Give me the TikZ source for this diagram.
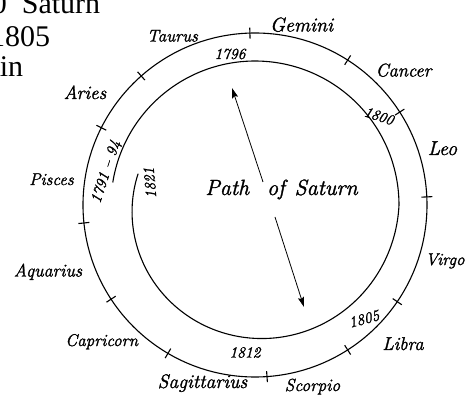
\documentclass[tikz,border=0pt]{standalone}
\usepackage{fontspec}
\newfontfamily\tnr{Liberation Serif}
\newfontfamily\handfont{Latin Modern Roman}[FakeBold=1.5,Ligatures=TeX]
\usetikzlibrary{arrows.meta}
\tikzset{
  hand/.style={font=\handfont\fontsize{#1}{#1}\selectfont\itshape, inner sep=0pt, anchor=base},
  num/.style={font=\handfont\fontsize{#1}{#1}\selectfont\itshape, inner sep=0pt},
  ring/.style={line width=1.1pt},
  signtick/.style={line width=1.1pt},
  pointer/.style={line width=0.8pt, -{Stealth[length=10pt,width=6pt,inset=1.5pt]}},
  cut/.style={font=\tnr\fontsize{30}{30}\selectfont, inner sep=0pt, anchor=base west}
}
\begin{document}
\begin{tikzpicture}[x=1pt,y=1pt]
\useasboundingbox (-255,-191) rectangle (214,205);
\fill[white] (-255,-191) rectangle (214,205);
% cut-off text at top left
\node[cut] (t1) at (-263.3,191.7) {0\hspace{15pt}Saturn};
\node[cut] (t2) at (-265,158.5) {1805};
\node[cut] (t3) at (-255.3,128.5) {in};
% zodiac ring
\draw[ring] (0,0) circle[radius=172pt];
\foreach \a in {91.7,57.4,32.7,2.7,-34.2,-57.4,-86,-120.4,-146.8,-174,153.3,131.4}
  \draw[signtick] (\a:166.5pt) -- (\a:177.5pt);
% path of Saturn (spiral)
\draw[ring] plot[domain=0:366, samples=200, smooth, variable=\t]
  ({171-\t}:{144-23*max(0,(\t-171)/195)});
% sign names
\node[hand=17] (taurus) at (-82.5,163.5) {Taurus};
\node[hand=20] (gemini) at (46.5,173.5) {Gemini};
\node[hand=18.5] (cancer) at (148.5,128.5) {Cancer};
\node[hand=20] (leo) at (187.5,50) {Leo};
\node[hand=17] (virgo) at (190,-60) {Virgo};
\node[hand=18.5] (libra) at (148,-145) {Libra};
\node[hand=17.5] (scorpio) at (57.5,-186) {Scorpio};
\node[hand=19.5] (sagittarius) at (-52.5,-183) {Sagittarius};
\node[hand=17] (capricorn) at (-153.3,-141) {Capricorn};
\node[hand=18] (aquarius) at (-207,-71.5) {Aquarius};
\node[hand=17] (pisces) at (-203.5,20) {Pisces};
\node[hand=19] (aries) at (-170,106) {Aries};
% years
\node[num=15.5] (y1796) at (-25,151) {1796};
\node[num=15, rotate=-18] (y1800) at (124,89) {1800};
\node[num=15.5, rotate=15] (y1805) at (109,-114) {1805};
\node[num=15.5] (y1812) at (-10,-147.5) {1812};
\node[num=15.5, rotate=72] (y1791) at (-148.5,33) {1791 -- 94};
\node[num=15.5, rotate=95] (y1821) at (-105,22) {1821};
% title and arrow
\node[hand=22] (title) at (26.5,10) {Path\hspace{18pt}of\hspace{10pt}Saturn};
\coordinate (tipA) at (-23,117);
\coordinate (endA) at (8,23);
\coordinate (endB) at (20,-12);
\coordinate (tipB) at (49,-102);
\draw[pointer] (endA) -- (tipA);
\draw[pointer] (endB) -- (tipB);
\end{tikzpicture}
\end{document}
